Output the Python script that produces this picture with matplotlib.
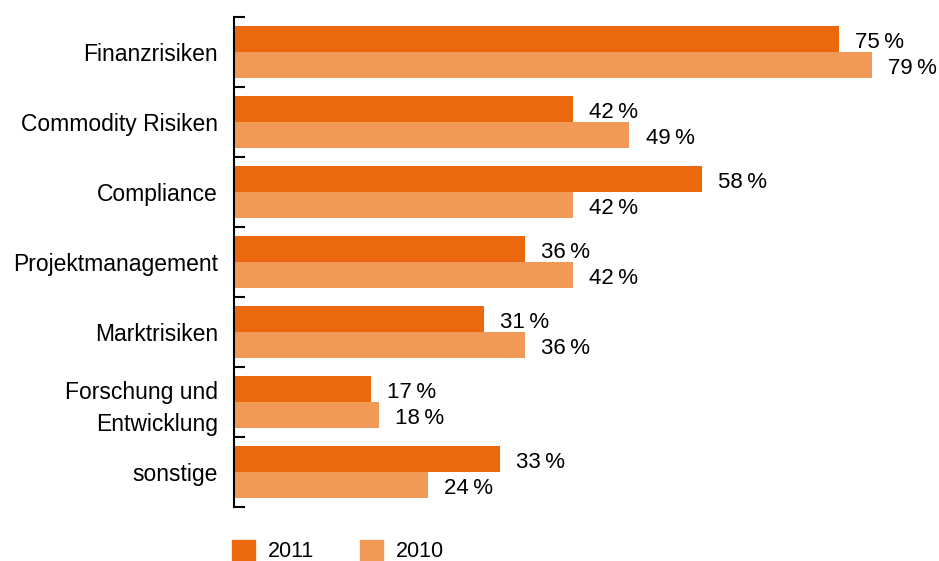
import matplotlib
matplotlib.use("Agg")
import matplotlib.pyplot as plt
from matplotlib.patches import Patch
import numpy as np

categories = [
    "Finanzrisiken",
    "Commodity Risiken",
    "Compliance",
    "Projektmanagement",
    "Marktrisiken",
    "Forschung und\nEntwicklung",
    "sonstige",
]
values_2011 = [75, 42, 58, 36, 31, 17, 33]
values_2010 = [79, 49, 42, 42, 36, 18, 24]

color_2011 = "#EB680F"
color_2010 = "#F19A58"

plt.rcParams["font.family"] = ["Liberation Sans", "DejaVu Sans"]
fs_cat = 16.5
fs_val = 16

fig = plt.figure(figsize=(9.39, 5.61), dpi=100)
ax = fig.add_axes([234 / 939, 54 / 561, 705 / 939, 490 / 561])

y = np.arange(len(categories)) + 0.5
h = 0.371
ax.barh(y - h / 2, values_2011, height=h, color=color_2011, label="2011")
ax.barh(y + h / 2, values_2010, height=h, color=color_2010, label="2010")

for yi, v in zip(y - h / 2, values_2011):
    ax.text(v + 2, yi + 0.02, f"{v}\u2009%", va="center_baseline", ha="left", fontsize=fs_val)
for yi, v in zip(y + h / 2, values_2010):
    ax.text(v + 2, yi + 0.02, f"{v}\u2009%", va="center_baseline", ha="left", fontsize=fs_val)

ax.set_xlim(0, 705 / 8.07)
ax.set_ylim(len(categories), 0)

# group boundaries as major ticks, category names on minor ticks
ax.set_yticks(np.arange(len(categories) + 1))
ax.set_yticklabels([])
ax.set_yticks(y, minor=True)
ax.set_yticklabels(categories, minor=True, fontsize=fs_cat, linespacing=1.45)
for t in ax.get_yticklabels(minor=True):
    if "\n" not in t.get_text():
        t.set_va("center_baseline")
ax.tick_params(axis="y", which="major", direction="in", length=8, width=1.5)
ax.tick_params(axis="y", which="minor", length=0, pad=11.5)

ax.set_xticks([])
for side in ["top", "right", "bottom"]:
    ax.spines[side].set_visible(False)
ax.spines["left"].set_linewidth(1.5)

handles = [Patch(color=color_2011, label="2011"), Patch(color=color_2010, label="2010")]
fig.legend(
    handles=handles,
    loc="lower left",
    bbox_to_anchor=(232 / 939, -1 / 561),
    ncol=2,
    frameon=False,
    fontsize=15.5,
    handlelength=1.05,
    handleheight=1.05,
    handletextpad=0.6,
    columnspacing=2.15,
    borderpad=0,
    borderaxespad=0,
)

fig.savefig("out.png", dpi=100)
